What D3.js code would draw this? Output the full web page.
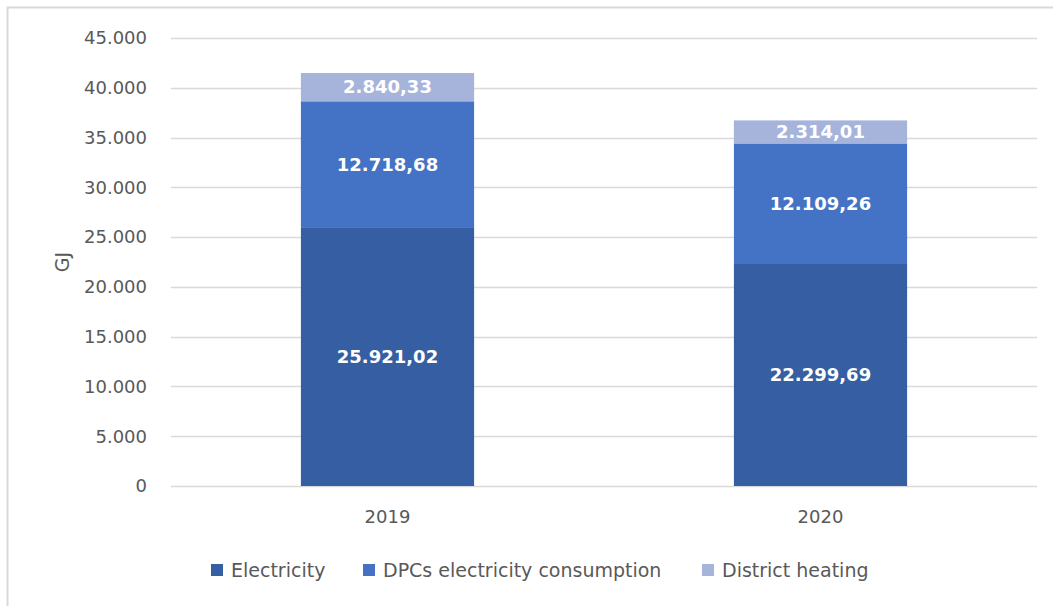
<!DOCTYPE html>
<html>
<head>
<meta charset="utf-8">
<script src="https://cdn.jsdelivr.net/npm/d3@7"></script>
<style>
  body { margin: 0; background: #fff; overflow: hidden; }
  text { font-family: "DejaVu Sans", sans-serif; }
</style>
</head>
<body>
<div id="chart-area"></div>
<script>
// Chart data
var years = ["2019", "2020"];
var seriesNames = ["Electricity", "DPCs electricity consumption", "District heating"];
var electricity = [25921.02, 22299.69];
var dpcs = [12718.68, 12109.26];
var districtHeating = [2840.33, 2314.01];
var yTicks = [0, 5000, 10000, 15000, 20000, 25000, 30000, 35000, 40000, 45000];
var colors = ["#365EA2", "#4472C4", "#A6B4DB"];

var width = 1053;
var height = 606;
var margin = { top: 38, right: 16, bottom: 120, left: 171 };
var innerWidth = width - margin.left - margin.right;
var innerHeight = height - margin.top - margin.bottom;

var root = d3.select("#chart-area")
    .append("svg")
    .attr("width", width)
    .attr("height", height)
    .style("display", "block");

// outer frame (left and top edges only are visible)
root.append("path")
    .attr("d", `M7.5,${height} V7.5 H${width}`)
    .attr("fill", "none")
    .attr("stroke", "#d9d9d9")
    .attr("stroke-width", 2);

var svg = root.append("g")
    .attr("transform", `translate(${margin.left}, ${margin.top})`);

// de-DE style number formats
var loc = d3.formatLocale({ decimal: ",", thousands: ".", grouping: [3], currency: ["", "€"] });
var fmtTick = loc.format(",d");
var fmtVal = loc.format(",.2f");

// stack the series
var rows = years.map((y, i) => ({
    year: y,
    s0: electricity[i],
    s1: dpcs[i],
    s2: districtHeating[i]
}));
var stack = d3.stack().keys(["s0", "s1", "s2"]);
var layers = stack(rows);

var x = d3.scaleBand()
    .domain(years)
    .range([0, innerWidth])
    .padding(0);

var y = d3.scaleLinear()
    .domain([0, 45000])
    .range([innerHeight, 0]);

var barW = x.bandwidth() * 0.4;
var barOff = (x.bandwidth() - barW) / 2;

// gridlines
svg.selectAll("line.grid")
    .data(yTicks)
    .enter()
    .append("line")
    .attr("class", "grid")
    .attr("x1", 0)
    .attr("x2", innerWidth)
    .attr("y1", d => Math.round(y(d)) + 0.5)
    .attr("y2", d => Math.round(y(d)) + 0.5)
    .attr("stroke", "#d9d9d9")
    .attr("stroke-width", 1.5);

// y tick labels
svg.selectAll("text.ytick")
    .data(yTicks)
    .enter()
    .append("text")
    .attr("class", "ytick")
    .attr("x", -24)
    .attr("y", d => y(d))
    .attr("dy", "0.35em")
    .attr("text-anchor", "end")
    .attr("font-size", "18px")
    .attr("fill", "#595959")
    .text(d => fmtTick(d));

// y axis title
svg.append("text")
    .attr("transform", `translate(${62 - margin.left}, ${262 - margin.top}) rotate(-90)`)
    .attr("text-anchor", "middle")
    .attr("dy", "0.35em")
    .attr("font-size", "19px")
    .attr("fill", "#595959")
    .text("GJ");

// bars
var groups = svg.selectAll("g.layer")
    .data(layers)
    .enter()
    .append("g")
    .attr("class", "layer")
    .attr("fill", (d, i) => colors[i]);

groups.selectAll("rect")
    .data(d => d)
    .enter()
    .append("rect")
    .attr("x", d => x(d.data.year) + barOff)
    .attr("y", d => y(d[1]))
    .attr("width", barW)
    .attr("height", d => y(d[0]) - y(d[1]));

// value labels
groups.selectAll("text")
    .data(d => d)
    .enter()
    .append("text")
    .attr("x", d => x(d.data.year) + x.bandwidth() / 2)
    .attr("y", d => (y(d[0]) + y(d[1])) / 2)
    .attr("dy", "0.35em")
    .attr("text-anchor", "middle")
    .attr("font-size", "18px")
    .attr("font-weight", "bold")
    .attr("fill", "#ffffff")
    .text(d => fmtVal(d[1] - d[0]));

// category labels
svg.selectAll("text.xtick")
    .data(years)
    .enter()
    .append("text")
    .attr("class", "xtick")
    .attr("x", d => x(d) + x.bandwidth() / 2)
    .attr("y", innerHeight + 37)
    .attr("text-anchor", "middle")
    .attr("font-size", "18px")
    .attr("fill", "#595959")
    .text(d => d);

// legend
var legendX = [211, 363, 702];
var legend = root.selectAll("g.legend")
    .data(seriesNames)
    .enter()
    .append("g")
    .attr("class", "legend")
    .attr("transform", (d, i) => `translate(${legendX[i]}, 564)`);

legend.append("rect")
    .attr("width", 12)
    .attr("height", 12)
    .attr("fill", (d, i) => colors[i]);

legend.append("text")
    .attr("x", 20)
    .attr("y", 13)
    .attr("font-size", "19px")
    .attr("fill", "#595959")
    .text(d => d);
</script>
</body>
</html>
